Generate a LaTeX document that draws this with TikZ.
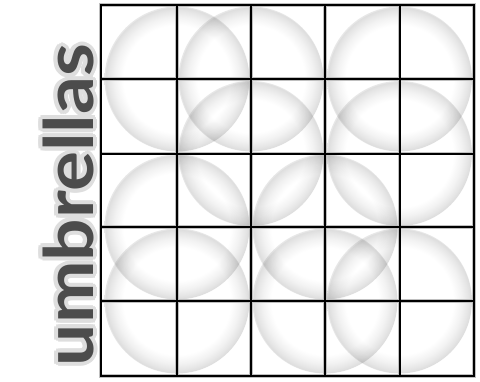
\documentclass[tikz,border=0pt]{standalone}
\usepackage{fontspec}
\newfontfamily\umbfont{Lato}
\usetikzlibrary{calc}
\pgfdeclareradialshading{umbshade}{\pgfpoint{0bp}{0bp}}{%
  color(0bp)=(white); color(18.5bp)=(white); color(21.5bp)=(black!5);
  color(23.6bp)=(black!10); color(24.6bp)=(black!13); color(25bp)=(black!9);
  color(50bp)=(black!9)}
\begin{document}
\begin{tikzpicture}[x=1pt,y=-1pt,
  umb/.style={shading=umbshade, blend mode=multiply},
  gridline/.style={line width=2pt, black},
  gridsoft/.style={line width=3.6pt, black!25},
  umbtext/.style={rotate=90, anchor=base west, inner sep=0pt, outer sep=0pt,
    font=\umbfont\bfseries\fontsize{68}{72}\selectfont},
  glowtext/.style={umbtext, text=black!13},
  maintext/.style={umbtext, text=black!70}]
\useasboundingbox (0,0) rectangle (480,381);
\fill[white] (0,0) rectangle (480,381);
% umbrellas
\foreach \cx/\cy in {177/79, 251/79, 399.5/79, 251/153.5, 399.5/153.5,
                     177/227, 325/227, 177/301, 325/301, 399.5/301}
  \shade[umb] (\cx,\cy) circle[radius=72.5];
% grid
\foreach \st in {gridsoft, gridline}{
  \draw[\st] (100.5,5) rectangle (474,376);
  \foreach \gx in {177,251,325,399.5} \draw[\st] (\gx,5) -- (\gx,376);
  \foreach \gy in {79,153.5,227,301} \draw[\st] (100.5,\gy) -- (474,\gy);
}
% title
\coordinate (tpos) at (93,366);
\foreach \a in {0,30,...,330}
  \node[glowtext] (glow\a) at ($(tpos)+(\a:4)$) {\scalebox{1.1}[1]{umbrellas}};
\node[maintext] (title) at (tpos) {\scalebox{1.1}[1]{umbrellas}};
\end{tikzpicture}
\end{document}
